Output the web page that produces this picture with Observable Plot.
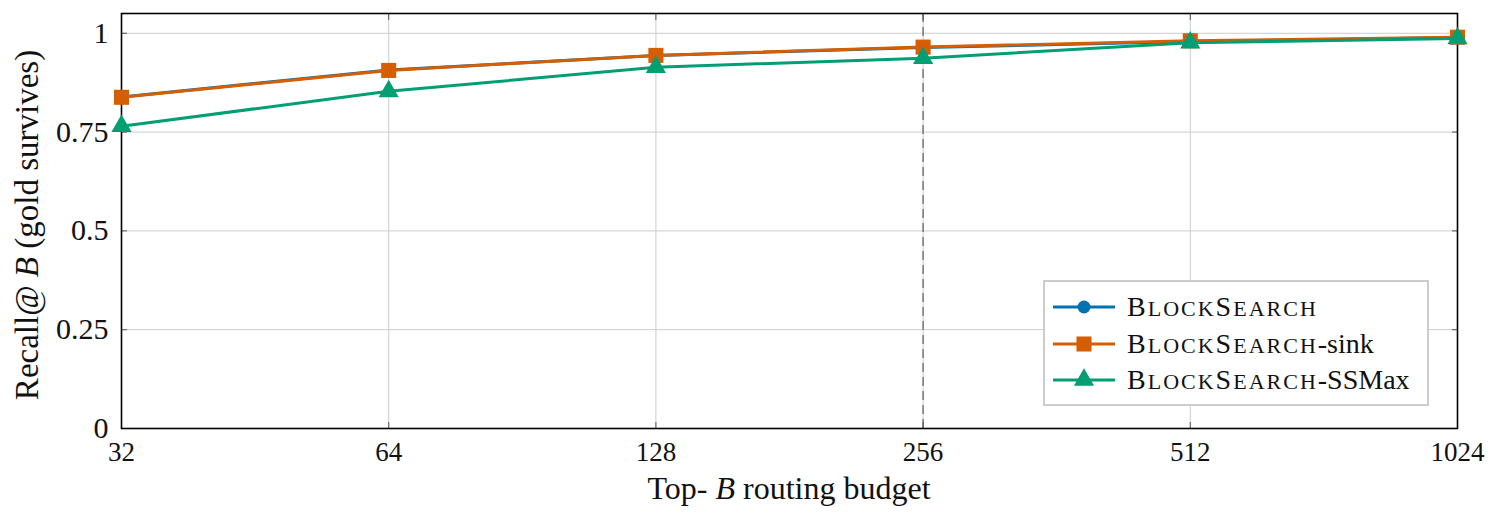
<!DOCTYPE html>
<html>
<head>
<meta charset="utf-8">
<script src="https://cdn.jsdelivr.net/npm/d3@7"></script>
<script src="https://cdn.jsdelivr.net/npm/@observablehq/plot@0.6"></script>
<style>
  html, body { margin: 0; padding: 0; background: #fff; }
  #wrap { position: relative; width: 1498px; height: 521px; }
  #legend {
    position: absolute; left: 1043px; top: 280px; width: 386px; height: 126px;
    border: 2px solid #cccccc; background: #fff; box-sizing: border-box;
    font-family: Liberation Serif; font-size: 28px; color: #111;
  }
  .row { position: absolute; left: 8px; height: 36px; display: flex; align-items: center; white-space: nowrap; }
  .row svg { margin-right: 10px; }
  .sm { font-size: 22px; }
  .nm { letter-spacing: 2px; }
</style>
</head>
<body>
<div id="wrap"></div>
<script>
const budgets = [32, 64, 128, 256, 512, 1024];
const blocksearch = [0.839, 0.907, 0.944, 0.964, 0.979, 0.989];
const sink = [0.838, 0.906, 0.944, 0.965, 0.981, 0.990];
const ssmax = [0.765, 0.853, 0.914, 0.937, 0.976, 0.987];
const yTicks = [0, 0.25, 0.5, 0.75, 1];
const markedBudget = [256];

const FONT = "Liberation Serif";

const series = [
  {name: "BlockSearch", suffix: "", values: blocksearch, color: "#0072B2", symbol: "circle", r: 6.5},
  {name: "BlockSearch", suffix: "-sink", values: sink, color: "#D55E00", symbol: "square", r: 8.5},
  {name: "BlockSearch", suffix: "-SSMax", values: ssmax, color: "#009E73", symbol: "triangle", r: 7.5}
];

const rows = series.flatMap((s, i) => budgets.map((b, j) => ({key: i, budget: b, recall: s.values[j]})));

const marks = [
  Plot.gridX(budgets, {stroke: "#cccccc", strokeOpacity: 1, strokeWidth: 1}),
  Plot.gridY(yTicks, {stroke: "#cccccc", strokeOpacity: 1, strokeWidth: 1}),
  Plot.ruleX(markedBudget, {stroke: "#777", strokeWidth: 1.5, strokeDasharray: "9,5"}),
  Plot.axisX(budgets, {anchor: "bottom", tickSize: -6, text: null, stroke: "#555"}),
  Plot.axisX(budgets, {anchor: "top", tickSize: -6, text: null, stroke: "#555"}),
  Plot.axisY(yTicks, {anchor: "left", tickSize: -6, text: null, stroke: "#555"}),
  Plot.axisY(yTicks, {anchor: "right", tickSize: -6, text: null, stroke: "#555"}),
  Plot.axisX(budgets, {anchor: "bottom", tickSize: 0, tickPadding: 13, tickFormat: d => String(d), fontSize: 27, label: null, fill: "#111"}),
  Plot.axisY(yTicks, {anchor: "left", tickSize: 0, tickPadding: 13, tickFormat: d => String(d), fontSize: 30, label: null, fill: "#111"}),
  Plot.frame({stroke: "black", strokeWidth: 1.6})
];
series.forEach((s, i) => {
  const d = rows.filter(r => r.key === i);
  marks.push(Plot.line(d, {x: "budget", y: "recall", stroke: s.color, strokeWidth: 3}));
  marks.push(Plot.dot(d, {x: "budget", y: "recall", fill: s.color, symbol: s.symbol, r: s.r, stroke: "none"}));
});

const chart = Plot.plot({
  width: 1498,
  height: 521,
  marginLeft: 121,
  marginRight: 41,
  marginTop: 13,
  marginBottom: 93,
  style: {fontFamily: FONT, fontSize: "27px", background: "#fff"},
  x: {type: "log", base: 2, domain: [32, 1024], label: null, axis: null},
  y: {domain: [0, 1.05], label: null, axis: null},
  marks
});

const svg = d3.select(chart);
const xl = svg.append("text")
  .attr("x", 789).attr("y", 499)
  .attr("text-anchor", "middle")
  .attr("font-family", FONT)
  .attr("font-size", 32).attr("fill", "#111");
xl.append("tspan").text("Top- ");
xl.append("tspan").attr("font-style", "italic").text("B");
xl.append("tspan").text(" routing budget");

const yl = svg.append("text")
  .attr("transform", "translate(38,225) rotate(-90)")
  .attr("text-anchor", "middle")
  .attr("font-family", FONT)
  .attr("font-size", 33).attr("fill", "#111");
yl.append("tspan").text("Recall@ ");
yl.append("tspan").attr("font-style", "italic").text("B");
yl.append("tspan").text(" (gold survives)");

const wrap = document.getElementById("wrap");
wrap.appendChild(chart);

function smallCaps(name) {
  return name.split("").map(c => c === c.toUpperCase() ? c : '<span class="sm">' + c.toUpperCase() + '</span>').join("");
}

const legend = document.createElement("div");
legend.id = "legend";
const rowTops = [7, 44, 80];
series.forEach((s, i) => {
  const row = document.createElement("div");
  row.className = "row";
  row.style.top = rowTops[i] + "px";
  const sym = d3.create("svg").attr("width", 64).attr("height", 36);
  sym.append("line").attr("x1", 0).attr("x2", 62).attr("y1", 18).attr("y2", 18)
    .attr("stroke", s.color).attr("stroke-width", 3);
  sym.append("path").attr("transform", "translate(31,18)")
    .attr("d", d3.symbol(s.symbol === "circle" ? d3.symbolCircle : s.symbol === "square" ? d3.symbolSquare : d3.symbolTriangle, Math.PI * s.r * s.r)())
    .attr("fill", s.color);
  row.appendChild(sym.node());
  const label = document.createElement("span");
  label.innerHTML = '<span class="nm">' + smallCaps(s.name) + '</span>' + s.suffix;
  row.appendChild(label);
  legend.appendChild(row);
});
wrap.appendChild(legend);
</script>
</body>
</html>
